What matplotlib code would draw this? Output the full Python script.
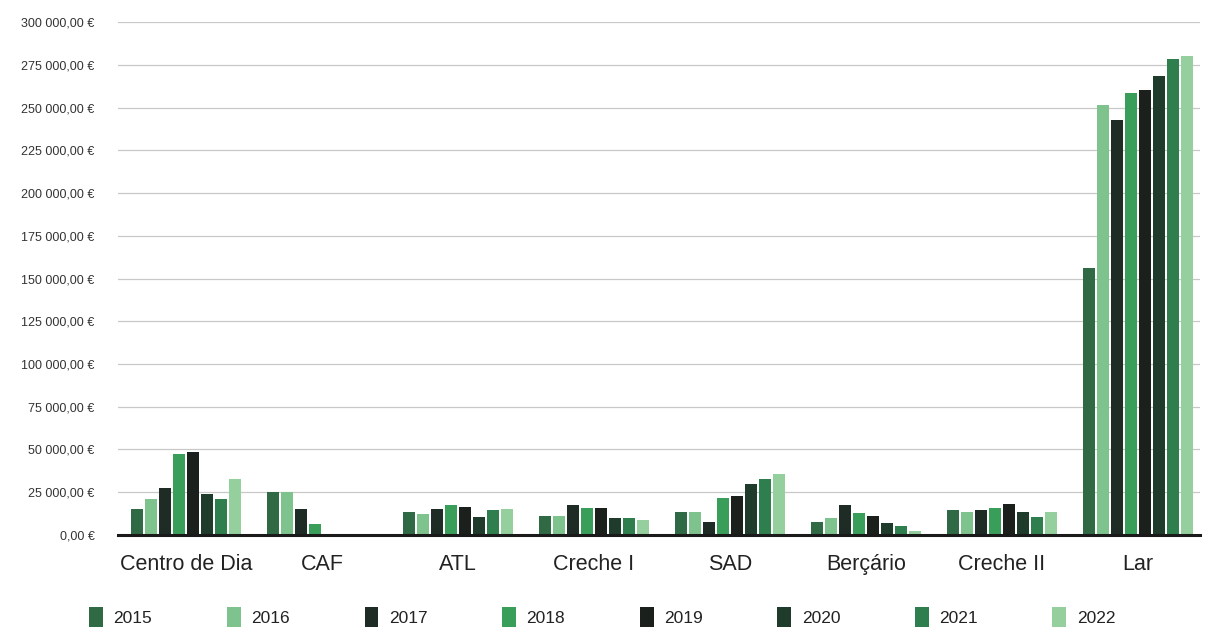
import matplotlib
matplotlib.use("Agg")
import matplotlib.pyplot as plt
import numpy as np
from matplotlib.ticker import FuncFormatter

plt.rcParams['font.family'] = ['Liberation Sans', 'DejaVu Sans']

categories = ["Centro de Dia", "CAF", "ATL", "Creche I", "SAD", "Berçário", "Creche II", "Lar"]
years = ["2015", "2016", "2017", "2018", "2019", "2020", "2021", "2022"]

v2015 = [15200, 25200, 13200, 11300, 13600, 7800, 14500, 156000]
v2016 = [21000, 25200, 12100, 11300, 13600, 10100, 13600, 251500]
v2017 = [27500, 15200, 15000, 17500, 7800, 17400, 14800, 243000]
v2018 = [47500, 6400, 17700, 15600, 21500, 12800, 16000, 258500]
v2019 = [48700, 0, 16500, 15600, 22800, 11000, 18000, 260500]
v2020 = [24200, 0, 10300, 9900, 29800, 7200, 13200, 268500]
v2021 = [21000, 0, 14600, 9900, 32600, 5200, 10500, 278500]
v2022 = [32800, 0, 15400, 8800, 35700, 2500, 13200, 280500]

series = [v2015, v2016, v2017, v2018, v2019, v2020, v2021, v2022]
colors = ["#2f6a45", "#7ec38e", "#1f2b25", "#3a9e5b", "#1b201d", "#1f3b2b", "#2f7f4e", "#94cf9d"]
yticks = list(range(0, 300001, 25000))

fig = plt.figure(figsize=(12.07, 6.36), dpi=100)
ax = fig.add_axes([118 / 1207, 0.159, 1082 / 1207, 0.806])

x = np.arange(len(categories))
slot = 0.82 / len(series)
for i, (vals, c, yr) in enumerate(zip(series, colors, years)):
    offs = (i - (len(series) - 1) / 2) * slot
    ax.bar(x + offs, vals, width=slot * 0.86, color=c, label=yr, zorder=3)

ax.set_xlim(-0.5, len(categories) - 0.544)
ax.set_ylim(0, 300000)
ax.set_yticks(yticks)

def fmt(v, pos):
    s = f"{v:,.2f}".replace(",", " ").replace(".", ",")
    return s + " €"

ax.yaxis.set_major_formatter(FuncFormatter(fmt))
ax.tick_params(axis='y', length=0, labelsize=9, labelcolor="#333333", pad=17)
ax.set_xticks(x)
ax.set_xticklabels(categories, fontsize=15.5, color="#222222")
ax.tick_params(axis='x', length=0, pad=14)
ax.grid(axis='y', color="#c8c8c8", linewidth=0.9, zorder=0)
for s in ["top", "right", "left"]:
    ax.spines[s].set_visible(False)
ax.spines["bottom"].set_color("#1a1a1a")
ax.spines["bottom"].set_linewidth(2.2)
ax.spines["bottom"].set_zorder(4)

fig.legend(loc="center", bbox_to_anchor=(0.499, 0.030), ncol=8, frameon=False,
           fontsize=12.5, handlelength=0.8, handleheight=1.4, handletextpad=0.6,
           columnspacing=4.3, labelcolor="#222222")

fig.savefig("out.png", dpi=100, facecolor="white")
